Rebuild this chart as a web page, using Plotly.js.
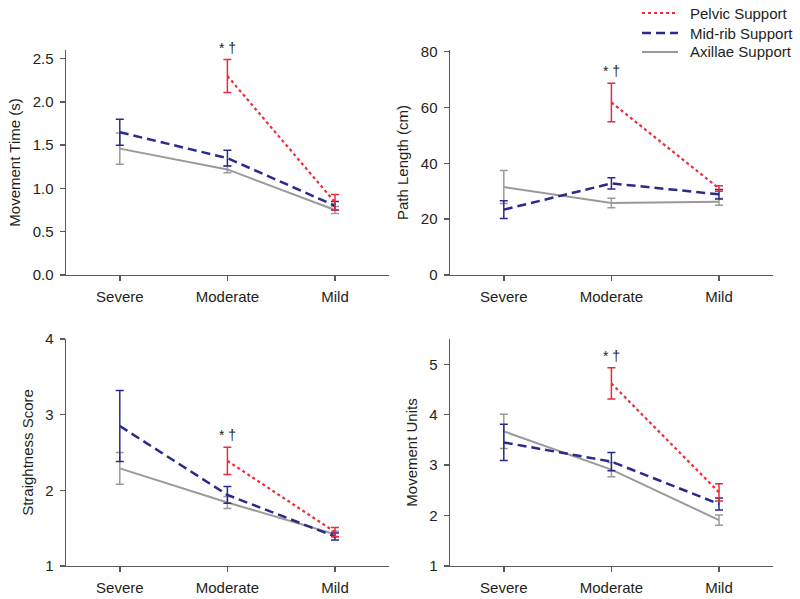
<!DOCTYPE html>
<html>
<head>
<meta charset="utf-8">
<script src="https://cdn.plot.ly/plotly-3.0.1.min.js"></script>
<style>html,body{margin:0;padding:0;background:#fff;}</style>
</head>
<body>
<div id="chart" style="width:800px;height:599px;"></div>
<script>
const severity = ['Severe', 'Moderate', 'Mild'];
const seriesNames = ['Pelvic Support', 'Mid-rib Support', 'Axillae Support'];

// Movement Time (s)
const mtPelvic = [null, 2.30, 0.84];
const mtPelvicErr = [null, 0.19, 0.09];
const mtMidrib = [1.65, 1.35, 0.80];
const mtMidribErr = [0.15, 0.09, 0.05];
const mtAxillae = [1.46, 1.22, 0.75];
const mtAxillaeErr = [0.18, 0.04, 0.04];

// Path Length (cm)
const plPelvic = [null, 61.8, 31.0];
const plPelvicErr = [null, 6.9, 1.0];
const plMidrib = [23.4, 32.8, 28.9];
const plMidribErr = [3.2, 2.0, 1.7];
const plAxillae = [31.5, 25.8, 26.2];
const plAxillaeErr = [5.9, 1.7, 1.2];

// Straightness Score
const ssPelvic = [null, 2.39, 1.45];
const ssPelvicErr = [null, 0.18, 0.06];
const ssMidrib = [2.85, 1.94, 1.39];
const ssMidribErr = [0.47, 0.11, 0.045];
const ssAxillae = [2.29, 1.84, 1.42];
const ssAxillaeErr = [0.21, 0.08, 0.04];

// Movement Units
const muPelvic = [null, 4.62, 2.46];
const muPelvicErr = [null, 0.31, 0.17];
const muMidrib = [3.45, 3.07, 2.23];
const muMidribErr = [0.36, 0.18, 0.12];
const muAxillae = [3.67, 2.91, 1.91];
const muAxillaeErr = [0.34, 0.14, 0.10];

const panels = [
  {x: 'x', y: 'y', a: mtAxillae, ae: mtAxillaeErr, m: mtMidrib, me: mtMidribErr, p: mtPelvic, pe: mtPelvicErr},
  {x: 'x2', y: 'y2', a: plAxillae, ae: plAxillaeErr, m: plMidrib, me: plMidribErr, p: plPelvic, pe: plPelvicErr},
  {x: 'x3', y: 'y3', a: ssAxillae, ae: ssAxillaeErr, m: ssMidrib, me: ssMidribErr, p: ssPelvic, pe: ssPelvicErr},
  {x: 'x4', y: 'y4', a: muAxillae, ae: muAxillaeErr, m: muMidrib, me: muMidribErr, p: muPelvic, pe: muPelvicErr}
];

const cRed = '#ee2a3a', cBlue = '#2a2a8c', cGray = '#9a9a9a';
const styles = [
  {color: cRed, width: 2.2, dash: 'dot'},
  {color: cBlue, width: 2.5, dash: '9px,5px'},
  {color: cGray, width: 2, dash: 'solid'}
];
const traces = [];
panels.forEach((pn) => {
  traces.push({x: severity, y: pn.a, xaxis: pn.x, yaxis: pn.y, mode: 'lines', name: seriesNames[2],
    showlegend: false, line: styles[2],
    error_y: {type: 'data', array: pn.ae, visible: true, color: cGray, thickness: 1.5, width: 4}});
  traces.push({x: severity, y: pn.m, xaxis: pn.x, yaxis: pn.y, mode: 'lines', name: seriesNames[1],
    showlegend: false, line: styles[1],
    error_y: {type: 'data', array: pn.me, visible: true, color: cBlue, thickness: 1.5, width: 4}});
  traces.push({x: severity, y: pn.p, xaxis: pn.x, yaxis: pn.y, mode: 'lines', name: seriesNames[0],
    showlegend: false, connectgaps: false, line: styles[0],
    error_y: {type: 'data', array: pn.pe, visible: true, color: cRed, thickness: 1.5, width: 4}});
});

const font = {family: 'Liberation Sans, Arial, sans-serif', size: 15, color: '#231f20'};
function xax(domain, anchor) {
  return {domain: domain, anchor: anchor, type: 'category', range: [-0.5, 2.5],
    showline: true, linecolor: '#5a5a5a', linewidth: 1.5, ticks: 'outside', ticklen: 5,
    tickcolor: '#5a5a5a', tickwidth: 1.5, showgrid: false, zeroline: false,
    ticklabelstandoff: 3, tickfont: font};
}
function yax(domain, anchor, range, dtick, fmt, title) {
  return {domain: domain, anchor: anchor, range: range, dtick: dtick, tickformat: fmt,
    showline: true, linecolor: '#5a5a5a', linewidth: 1.5, ticks: 'outside', ticklen: 5,
    tickcolor: '#5a5a5a', tickwidth: 1.5, showgrid: false, zeroline: false,
    ticklabelstandoff: 3,
    tickfont: font, title: {text: title, font: font, standoff: 8}};
}

const xL = [0.0825, 0.486], xR = [0.5625, 0.966];
const yT = [0.541, 0.9165], yB = [0.0551, 0.434];

const annFont = {family: 'Liberation Sans, Arial, sans-serif', size: 14, color: '#231f20'};
const annotations = panels.map(pn => {
  const top = pn.p[1] + pn.pe[1];
  return {x: severity[1], y: top, xref: pn.x, yref: pn.y, text: '* †', showarrow: false,
    yanchor: 'bottom', yshift: 2, font: annFont};
});

// manual legend (paper coordinates)
const W = 800, H = 599;
const legRowsPx = [13, 33, 52];
const shapes = [];
seriesNames.forEach((nm, i) => {
  const yp = 1 - legRowsPx[i] / H;
  shapes.push({type: 'line', xref: 'paper', yref: 'paper', x0: 642 / W, x1: 678 / W, y0: yp, y1: yp,
    line: styles[i]});
  annotations.push({xref: 'paper', yref: 'paper', x: 688 / W, y: yp, xanchor: 'left', yanchor: 'middle',
    text: nm, showarrow: false, font: font});
});

const layout = {
  width: 800, height: 599,
  margin: {l: 0, r: 0, t: 0, b: 0},
  paper_bgcolor: '#fff', plot_bgcolor: '#fff',
  font: font,
  showlegend: false,
  xaxis: xax(xL, 'y'),
  yaxis: yax(yT, 'x', [0, 2.6], 0.5, '.1f', 'Movement Time (s)'),
  xaxis2: xax(xR, 'y2'),
  yaxis2: yax(yT, 'x2', [0, 80.6], 20, 'd', 'Path Length (cm)'),
  xaxis3: xax(xL, 'y3'),
  yaxis3: yax(yB, 'x3', [1, 4], 1, 'd', 'Straightness Score'),
  xaxis4: xax(xR, 'y4'),
  yaxis4: yax(yB, 'x4', [1, 5.5], 1, 'd', 'Movement Units'),
  annotations: annotations,
  shapes: shapes
};

Plotly.newPlot('chart', traces, layout, {displayModeBar: false, staticPlot: true});
</script>
</body>
</html>
